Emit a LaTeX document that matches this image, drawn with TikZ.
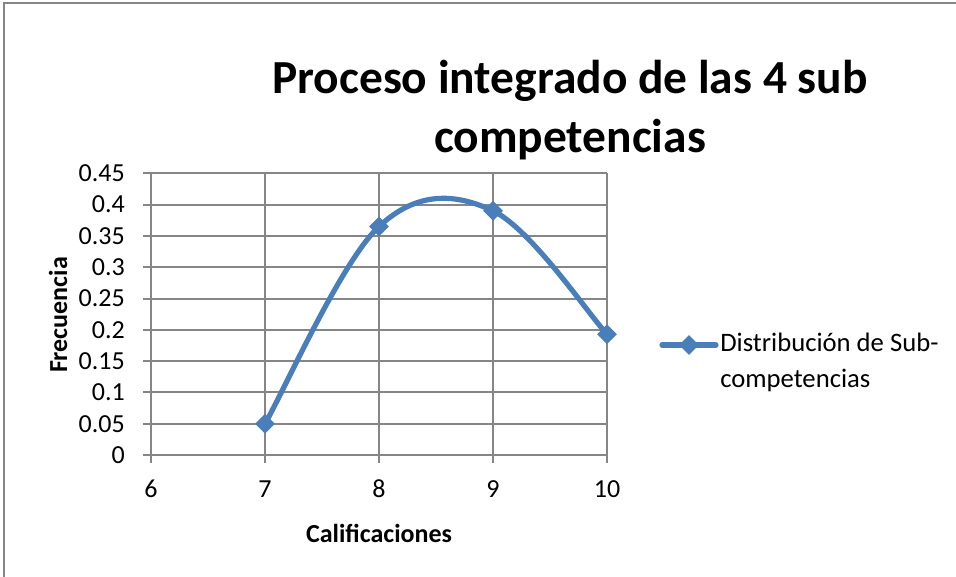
\documentclass[tikz,border=0pt]{standalone}
\usepackage{fontspec}
\setmainfont{Carlito}
\usetikzlibrary{shapes.geometric}
\definecolor{seriesblue}{HTML}{4A7EBB}
\definecolor{gridgray}{HTML}{868686}
\tikzstyle{gridline}=[draw=gridgray, line width=1.5pt]
\tikzstyle{ticklabel}=[font=\fontsize{19.5}{23}\selectfont, inner sep=0pt]
\tikzstyle{axis title}=[font=\bfseries\fontsize{19.5}{23}\selectfont, inner sep=0pt]
\tikzstyle{chart title}=[font=\bfseries\fontsize{35.6}{44}\selectfont, align=center, inner sep=0pt]
\tikzstyle{legend text}=[font=\fontsize{20}{27}\selectfont, align=left, inner sep=0pt]
\tikzstyle{datapoint}=[diamond, fill=seriesblue, inner sep=0pt, minimum size=15pt]
\tikzstyle{series}=[draw=seriesblue, line width=3.9pt, line cap=round, line join=round]

\begin{document}
\begin{tikzpicture}[x=0.75pt, y=-0.75pt]
\useasboundingbox (0,0) rectangle (956,577);
\draw[gridgray, line width=1.5pt] (4,577) -- (4,3) -- (956,3);

\node[chart title] (title) at (570,110) {Proceso integrado de las 4 sub\\competencias};

\begin{scope}[shift={(-399.75pt,-341.25pt)}, x=85.5pt, y=469.5pt]
% grid and ticks
\foreach \v [count=\i] in {0,0.05,0.1,0.15,0.2,0.25,0.3,0.35,0.4,0.45} {
  \draw[gridline] (5.93,\v) -- (10,\v);
  \node[ticklabel, anchor=east] (ylab\i) at (5.772,\v) {\v};
}
\foreach \x in {6,...,10} {
  \draw[gridline] (\x,-0.0128) -- (\x,0.45);
  \node[ticklabel] (xlab\x) at (\x,-0.0543) {\x};
}

% series
\coordinate (d7) at (7,0.05);
\coordinate (d8) at (8,0.365);
\coordinate (d9) at (9,0.39);
\coordinate (d10) at (10,0.193);
\draw[series] (d7) .. controls (7.1667,0.1025) and (7.6667,0.3083) .. (d8)
  .. controls (8.3333,0.4217) and (8.6667,0.4187) .. (d9)
  .. controls (9.3333,0.3613) and (9.8333,0.2258) .. (d10);
\node[datapoint] (m7) at (d7) {};
\node[datapoint] (m8) at (d8) {};
\node[datapoint] (m9) at (d9) {};
\node[datapoint] (m10) at (d10) {};
\end{scope}

\node[axis title, rotate=90] (ytitle) at (58,315) {Frecuencia};
\node[axis title] (xtitle) at (379,533) {Calificaciones};

% legend
\coordinate (legstart) at (662,345);
\coordinate (legend) at (716,345);
\draw[series] (legstart) -- (legend);
\node[datapoint] (legmark) at (689,345) {};
\node[legend text, anchor=west] (legtext) at (720,362) {Distribución de Sub-\\competencias};
\end{tikzpicture}
\end{document}
